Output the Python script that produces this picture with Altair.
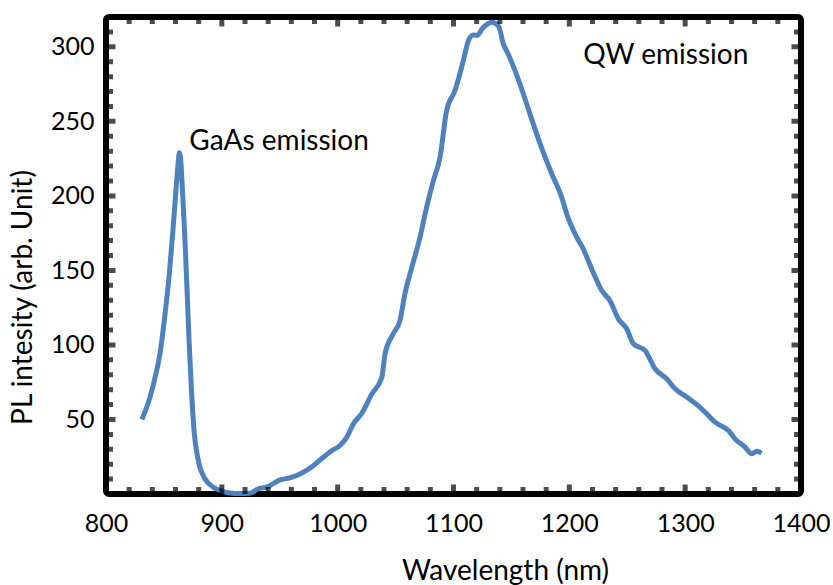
import altair as alt
import pandas as pd

# ---- data ----
wavelength = [831, 838, 842, 846.6, 851, 854.7, 857.6, 860.4, 862.3, 863.3, 864.5, 866, 868.2, 870,
              871.7, 873.8, 876, 879.7, 885.5, 892.6, 900, 907, 915, 924, 931.5, 940, 948.8, 958.9,
              967.5, 979, 987.6, 994.8, 1002, 1007.8, 1013.5, 1020.7, 1029.4, 1038, 1040.9, 1048,
              1053.8, 1058, 1064, 1071, 1076.8, 1082.6, 1088.4, 1094, 1101.3, 1108.5, 1112.8, 1117,
              1120, 1125.8, 1133, 1138.8, 1143, 1147.3, 1157.4, 1166, 1174.7, 1184.8, 1193.4, 1197.7,
              1206.3, 1212, 1219.3, 1228, 1235, 1242.3, 1249.5, 1255.3, 1265.3, 1274, 1284, 1291.3,
              1301.3, 1312.8, 1318.6, 1325.8, 1337.3, 1343, 1351.7, 1357.5, 1361.8, 1366]
intensity = [50, 65, 77, 94, 121, 148, 175, 204, 222, 229, 224, 204, 170, 136.5,
             103, 69.4, 42.6, 22.5, 10.2, 4.6, 2, 0.7, 0.3, 0.5, 3.5, 5, 9, 10.9,
             13.5, 19, 24.7, 29, 32.5, 38, 47, 54, 67, 78, 94, 107.5,
             116.4, 134, 152, 172, 192.4, 210, 226, 257, 270.7, 290.8, 304, 308,
             307.6, 313, 316.5, 314, 302, 295, 275, 255, 235, 214.8, 199, 188,
             172.3, 164.5, 151, 136.5, 129.8, 117.5, 110.8, 100.8, 96.3, 84, 77.3, 70.6,
             65, 58.2, 53.8, 48.2, 42.6, 37, 31.4, 27, 28.7, 27.4]

note_text = ["GaAs emission", "QW emission"]
note_x = [871.9, 1212.1]
note_y = [231.1, 288.8]

x_label_values = [800, 900, 1000, 1100, 1200, 1300, 1400]
y_label_values = [50, 100, 150, 200, 250, 300]
x_tick_values = list(range(800, 1401, 20))
y_tick_values = list(range(0, 321, 10))

W, H = 695, 477

df = pd.DataFrame({"wl": wavelength, "pl": intensity})
notes = pd.DataFrame({"text": note_text, "wl": note_x, "pl": note_y})
xt = pd.DataFrame({"wl": x_tick_values})
xt["len"] = [19 if v % 100 == 0 else 14 for v in x_tick_values]
yt = pd.DataFrame({"pl": y_tick_values})
yt["len"] = [19 if v % 50 == 0 else 14 for v in y_tick_values]

xs = alt.Scale(domain=[800, 1400], nice=False, zero=False)
ys = alt.Scale(domain=[0, 320], nice=False, zero=False)

x_axis = alt.Axis(values=x_label_values, title="Wavelength (nm)", labelPadding=17, format="d",
                  labelFlush=False, titleX=399, titleY=85, titleBaseline="alphabetic",
                  titleFontSize=28)
y_axis = alt.Axis(values=y_label_values, title="PL intesity (arb. Unit)", labelPadding=12, format="d",
                  labelFlush=False, titleX=-75, titleY=280, titleBaseline="alphabetic",
                  titleAngle=270, titleFontSize=28)
X = alt.X("wl:Q", scale=xs, axis=x_axis)
Y = alt.Y("pl:Q", scale=ys, axis=y_axis)

line = alt.Chart(df).mark_line(color="#4F81BD", strokeWidth=5, interpolate="monotone").encode(x=X, y=Y)

tick_style = dict(color="black", thickness=5, clip=True)
bottom = alt.Chart(xt).mark_tick(orient="vertical", **tick_style).encode(
    x=X, y=alt.value(H), size=alt.Size("len:Q", scale=None))
top = alt.Chart(xt).mark_tick(orient="vertical", **tick_style).encode(
    x=X, y=alt.value(0), size=alt.Size("len:Q", scale=None))
left = alt.Chart(yt).mark_tick(orient="horizontal", **tick_style).encode(
    y=Y, x=alt.value(0), size=alt.Size("len:Q", scale=None))
right = alt.Chart(yt).mark_tick(orient="horizontal", **tick_style).encode(
    y=Y, x=alt.value(W), size=alt.Size("len:Q", scale=None))

text = alt.Chart(notes).mark_text(font="Lato", fontSize=28, align="left", baseline="alphabetic",
                                  color="black").encode(x=X, y=Y, text="text:N")

chart = alt.layer(line, bottom, top, left, right, text).properties(
    width=W, height=H,
    autosize=alt.AutoSizeParams(type="none"),
    padding={"left": 106, "top": 17, "right": 32, "bottom": 91},
    background="white",
).configure_view(
    stroke="black", strokeWidth=6, cornerRadius=3
).configure_axis(
    domain=False, ticks=False, tickSize=0, grid=False,
    labelFont="Lato", labelFontSize=25, labelColor="black",
    titleFont="Lato", titleFontSize=27, titleFontWeight="normal", titleColor="black",
)

chart.save("out.html", embed_options={"renderer": "svg", "actions": False})
